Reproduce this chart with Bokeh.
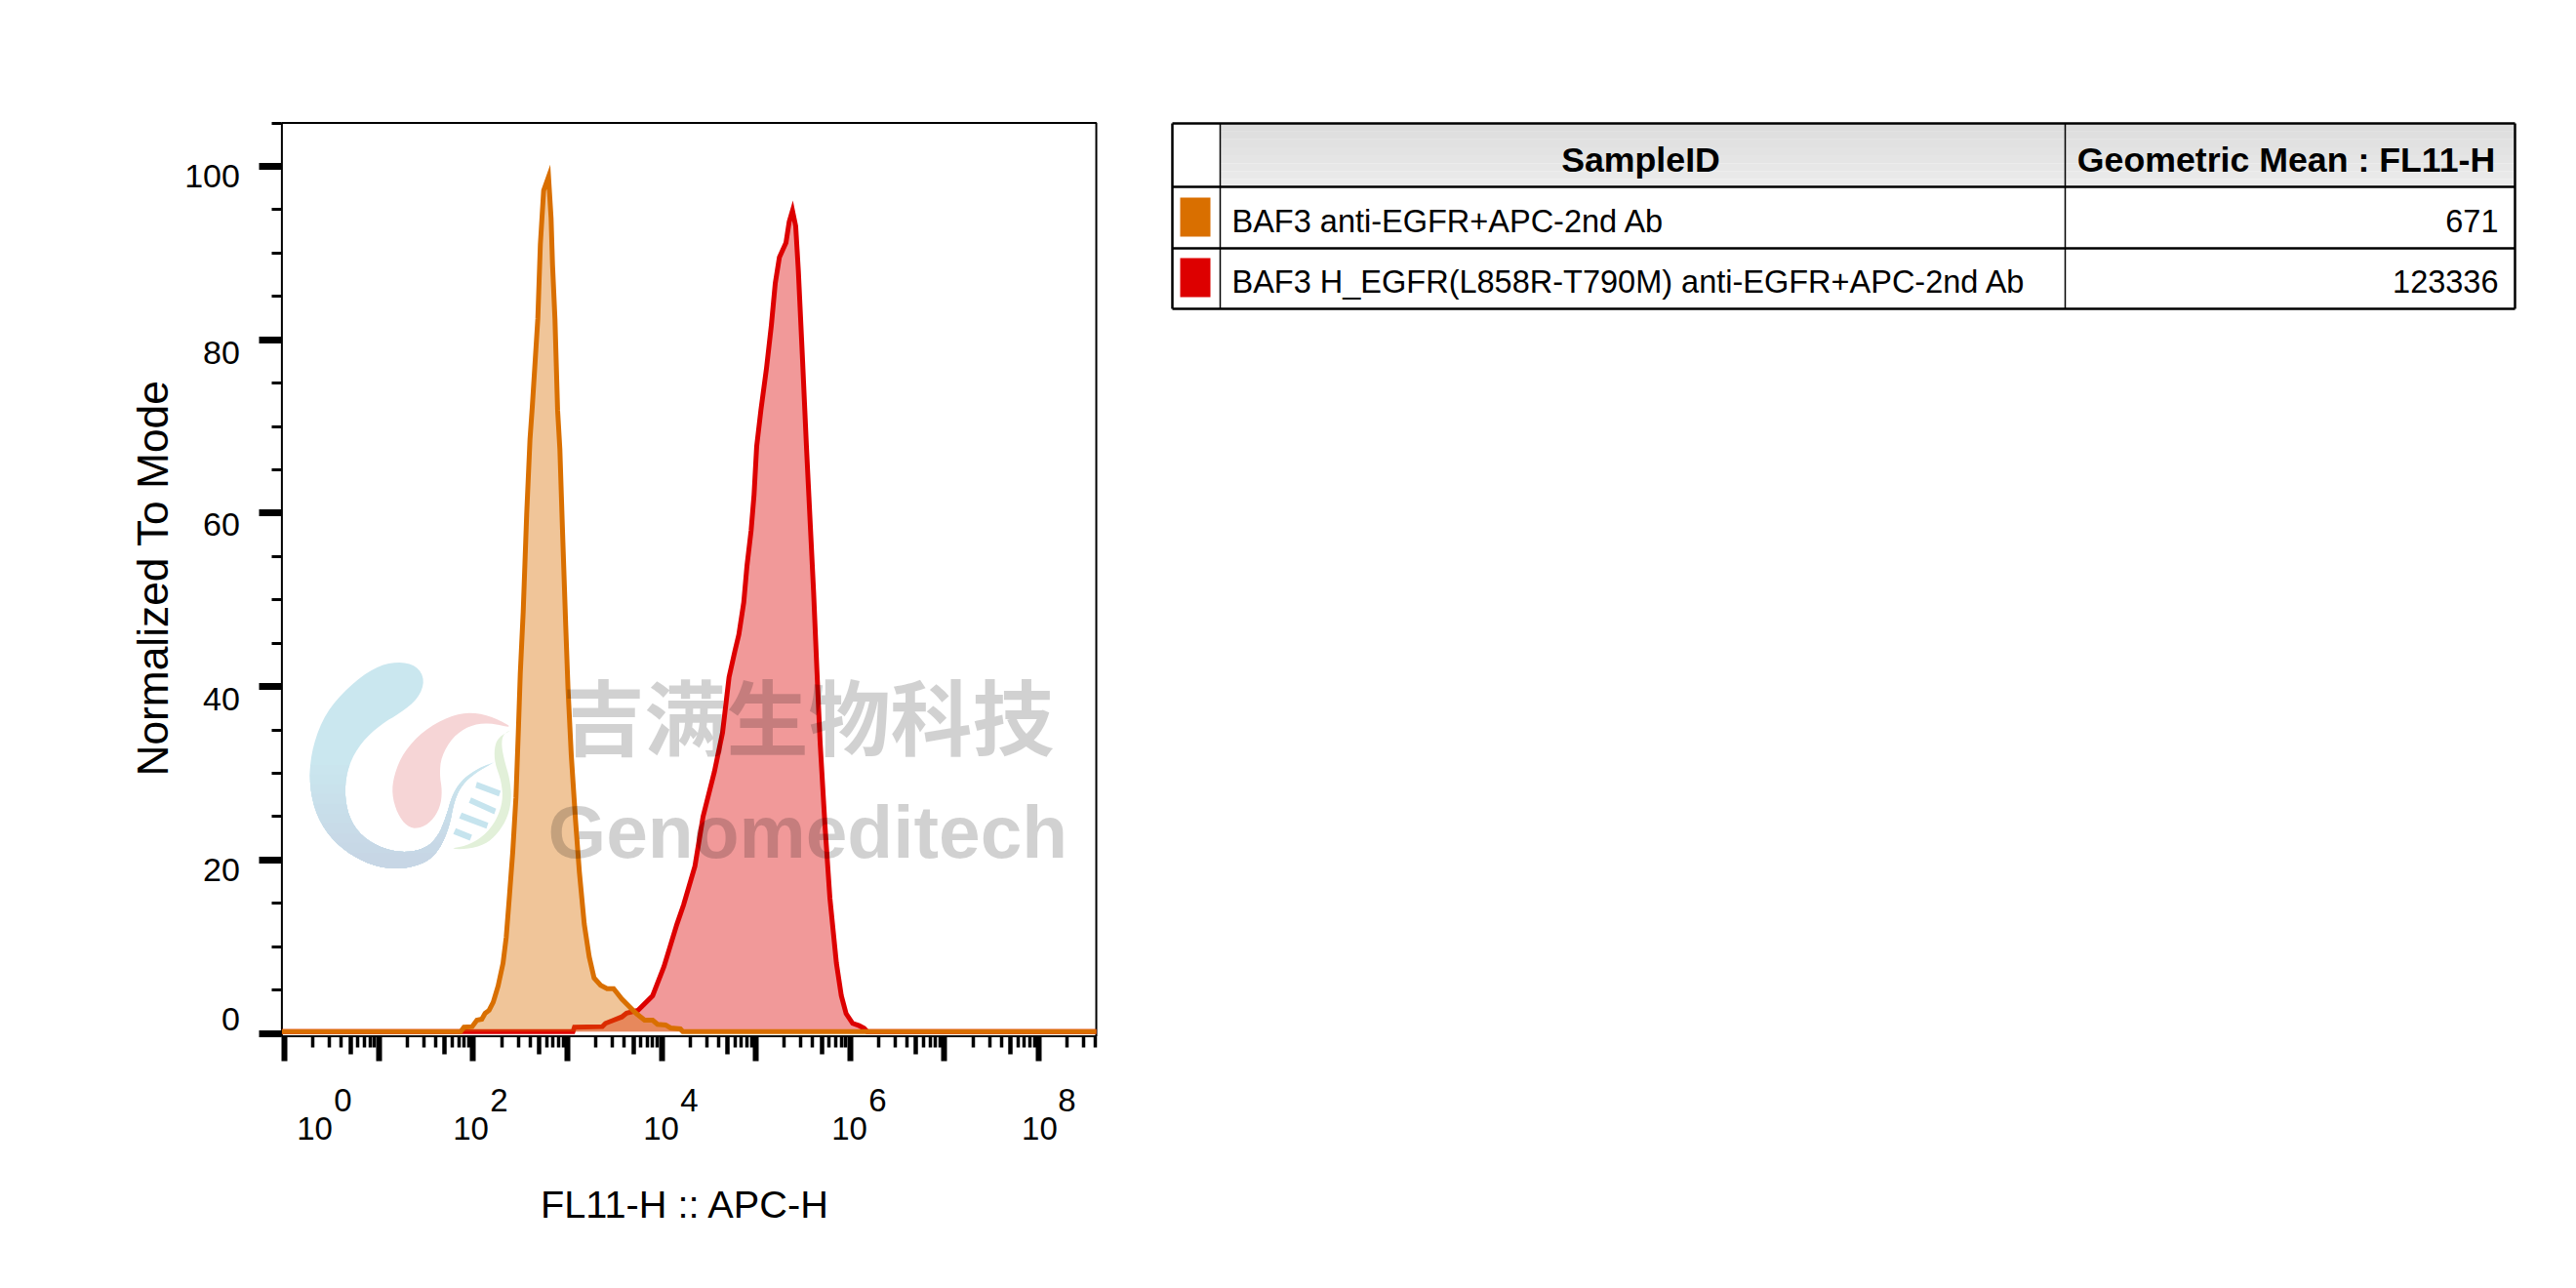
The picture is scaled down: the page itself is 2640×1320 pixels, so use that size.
import numpy as np
from bokeh.core.properties import value
from bokeh.embed import file_html
from bokeh.layouts import row
from bokeh.models import FixedTicker, Label, LinearAxis, LogAxis, PolyAnnotation, Range1d
from bokeh.plotting import figure
from bokeh.resources import INLINE

# ---------------- data ----------------
orange_log = [-0.03, 1.867, 1.902, 1.988, 2.039, 2.091, 2.126, 2.168, 2.212, 2.264, 2.316, 2.350, 2.385,
              2.419, 2.453, 2.478, 2.499, 2.530, 2.567, 2.602, 2.626, 2.685, 2.712, 2.747, 2.799, 2.826,
              2.841, 2.867, 2.895, 2.919, 2.947, 2.981, 3.006, 3.040, 3.085, 3.126, 3.178, 3.230, 3.282,
              3.351, 3.420, 3.489, 3.576, 3.731, 3.818, 3.903, 3.955, 4.041, 4.093, 4.197, 4.224, 8.61]
orange_pct = [0.2, 0.2, 0.71, 0.78, 1.53, 1.64, 2.32, 2.66, 3.59, 5.47, 8.09, 11.1, 15.97,
              20.9, 27.2, 34.7, 41.5, 48.6, 59.9, 68.5, 72.2, 82.4, 91.0, 97.2, 98.8, 94.0,
              88.7, 82.4, 71.9, 67.4, 58.0, 47.1, 39.6, 32.1, 24.6, 18.6, 12.6, 8.85, 6.40,
              5.55, 5.17, 5.17, 3.97, 2.28, 1.53, 1.53, 1.05, 0.97, 0.63, 0.52, 0.2, 0.2]
red_log = [-0.03, 3.058, 3.074, 3.369, 3.403, 3.489, 3.576, 3.627, 3.747, 3.903, 4.024, 4.161, 4.231, 4.352,
           4.438, 4.559, 4.645, 4.714, 4.776, 4.818, 4.870, 4.904, 4.948, 4.979, 5.007, 5.052, 5.111, 5.163,
           5.204, 5.248, 5.318, 5.352, 5.387, 5.421, 5.449, 5.491, 5.535, 5.577, 5.611, 5.646, 5.680, 5.732,
           5.784, 5.853, 5.905, 5.956, 6.025, 6.094, 6.146, 6.180, 8.61]
red_pct = [0.2, 0.2, 0.71, 0.78, 1.16, 1.53, 1.90, 2.35, 2.66, 4.34, 7.72, 12.6, 14.8, 19.3,
           25.0, 30.2, 34.7, 41.1, 44.1, 46.0, 49.7, 53.9, 58.0, 62.1, 67.7, 71.9, 76.7, 81.7,
           86.5, 89.5, 91.2, 93.6, 94.9, 93.1, 88.0, 78.3, 67.7, 58.4, 50.9, 41.9, 33.6, 23.9,
           15.6, 8.09, 4.34, 2.28, 1.16, 0.89, 0.60, 0.2, 0.2]

y_ticks = [0, 20, 40, 60, 80, 100]
y_tick_text = ["0", "20", "40", "60", "80", "100"]
y_minor = [5, 10, 15, 25, 30, 35, 45, 50, 55, 65, 70, 75, 85, 90, 95, 105]
x_base_text = ["10", "10", "10", "10", "10"]
x_sup_text = ["0", "2", "4", "6", "8"]

table_samples = ["BAF3 anti-EGFR+APC-2nd Ab", "BAF3 H_EGFR(L858R-T790M) anti-EGFR+APC-2nd Ab"]
table_values = ["671", "123336"]
table_header = ["SampleID", "Geometric Mean : FL11-H"]

ORANGE, RED = "#d96f00", "#dd0000"
SANS = "Liberation Sans"

# where the reference's tick labels actually sit (they are not centred on their ticks)
y_label_at = [1.64, 18.9, 38.55, 58.7, 78.5, 98.9]
x_base_at = [2.08, 94.2, 9840.0, 979000.0, 102000000.0]
x_sup_at = [4.15, 188.0, 19600.0, 1950000.0, 199000000.0]

# ---------------- histogram panel ----------------
# The frame fills the whole canvas (anything outside a frame gets clipped on this page),
# so the visible plot box is x_lo..x_hi, y_lo..y_hi inside wider ranges.
x_lo, x_hi = 10 ** -0.03, 10 ** 8.61
y_lo, y_hi = -0.34, 105
p = figure(width=1180, height=1316, output_backend="svg", toolbar_location=None,
           x_axis_type="log", x_range=Range1d(10 ** -3.0155, 10 ** 9.1998), y_range=Range1d(-28.97, 119.13),
           min_border=0, outline_line_color=None, frame_align=False)
p.grid.visible = False
p.quad(left=[x_lo], right=[x_hi], bottom=[y_lo], top=[y_hi], fill_color=None, line_color="black", line_width=2)

decades = [10.0 ** k for k in range(0, 9)]
x_minor = [m * 10.0 ** k for k in range(-1, 9) for m in (2, 3, 4, 6, 7, 8, 9)
           if x_lo <= m * 10.0 ** k <= x_hi]
x_medium = [5 * 10.0 ** k for k in range(0, 9) if 5 * 10.0 ** k <= x_hi]

xa = p.xaxis[0]
xa.fixed_location = y_lo
xa.axis_line_color = None
xa.ticker = FixedTicker(ticks=decades, minor_ticks=x_minor)
xa.major_tick_in = 0; xa.major_tick_out = 25; xa.major_tick_line_width = 6
xa.minor_tick_in = 0; xa.minor_tick_out = 11; xa.minor_tick_line_width = 3.5
xa.major_label_text_font_size = "1px"; xa.major_label_text_color = None; xa.major_label_standoff = 0

medium = LogAxis(ticker=FixedTicker(ticks=x_medium), fixed_location=y_lo, axis_line_color=None,
                 major_tick_in=0, major_tick_out=18, major_tick_line_width=4.5,
                 minor_tick_line_color=None, major_label_text_font_size="1px",
                 major_label_text_color=None, major_label_standoff=0)
p.add_layout(medium, "below")

ya = p.yaxis[0]
ya.fixed_location = x_lo
ya.axis_line_color = None
ya.ticker = FixedTicker(ticks=y_ticks, minor_ticks=y_minor)
ya.major_tick_in = 0; ya.major_tick_out = 23; ya.major_tick_line_width = 7
ya.minor_tick_in = 0; ya.minor_tick_out = 10; ya.minor_tick_line_width = 3
ya.major_label_text_font_size = "1px"; ya.major_label_text_color = None; ya.major_label_standoff = 0

rx = np.power(10.0, red_log); ox = np.power(10.0, orange_log)
p.varea(rx, y1=0.2, y2=red_pct, fill_color=RED, fill_alpha=0.4)
p.line(rx, red_pct, line_color=RED, line_width=5, line_join="miter")
p.varea(ox, y1=0.2, y2=orange_pct, fill_color=ORANGE, fill_alpha=0.4)
p.line(ox, orange_pct, line_color=ORANGE, line_width=5, line_join="miter")

# tick-label axes: no ticks or lines, only the labels, placed as in the reference
def label_axis(cls, side, at, texts, standoff, size, fixed):
    ax = cls(ticker=FixedTicker(ticks=at), fixed_location=fixed, axis_line_color=None,
             major_tick_line_color=None, minor_tick_line_color=None, major_tick_in=0, major_tick_out=0,
             major_label_standoff=standoff, major_label_overrides=dict(zip(at, texts)),
             major_label_text_font=SANS, major_label_text_font_size=size, major_label_text_color="black")
    p.add_layout(ax, side)

label_axis(LinearAxis, "left", y_label_at, y_tick_text, 43, "34px", x_lo)
label_axis(LogAxis, "below", x_base_at, x_base_text, 83, "33px", y_lo)
label_axis(LogAxis, "below", x_sup_at, x_sup_text, 54, "33px", y_lo)

p.add_layout(Label(x=702, y=1233, x_units="canvas", y_units="canvas", text="FL11-H :: APC-H", text_align="center",
                   text_baseline="middle", text_font=SANS, text_font_size="39.7px", text_color="black"))
p.add_layout(Label(x=156, y=592, x_units="canvas", y_units="canvas", text="Normalized To Mode", text_align="center",
                   text_baseline="middle", angle=90, angle_units="deg", text_font=SANS, text_font_size="44.3px",
                   text_color="black"))

# ---------------- watermark ----------------
def smooth(pts, rounds=2):
    for _ in range(rounds):
        out = []
        for (a, b), (c, d) in zip(pts, pts[1:] + pts[:1]):
            out += [(0.75 * a + 0.25 * c, 0.75 * b + 0.25 * d), (0.25 * a + 0.75 * c, 0.25 * b + 0.75 * d)]
        pts = out
    return pts

def keep_below(pts, thr):
    out = []
    for (a, b), (c, d) in zip(pts, pts[1:] + pts[:1]):
        if b >= thr:
            out.append((a, b))
        if (b >= thr) != (d >= thr):
            f = (thr - b) / (d - b)
            out.append((a + f * (c - a), thr))
    return out

def logo(pts, color):
    xs = [300 + a / 3 for a, _ in pts]
    ys = [660 + b / 3 for _, b in pts]
    p.add_layout(PolyAnnotation(xs=xs, ys=ys, xs_units="canvas", ys_units="canvas", fill_color=color,
                                fill_alpha=1, line_color=None, level="underlay"))

swirl = smooth([(320, 52), (380, 65), (405, 110), (385, 165), (330, 210), (270, 245), (210, 300), (170, 370),
                (157, 450), (170, 530), (210, 590), (280, 630), (350, 640), (410, 625), (445, 590), (470, 530),
                (490, 460), (520, 415), (570, 380), (618, 362), (618, 362), (560, 395), (520, 430), (495, 480),
                (480, 560), (450, 630), (410, 670), (340, 690), (260, 685), (180, 650), (110, 590), (65, 510),
                (48, 410), (60, 310), (100, 210), (170, 130), (250, 70)])
logo(swirl, "#cae7ef")
for i in range(1, 11):
    f = i / 10
    shade = "#%02x%02x%02x" % (round(202 - 3 * f), round(231 - 17 * f), round(239 - 10 * f))
    logo(keep_below(swirl, 340 + 30 * i), shade)
logo(smooth([(680, 258), (620, 225), (550, 207), (480, 220), (400, 265), (340, 330), (310, 400), (303, 460),
             (320, 520), (350, 560), (385, 567), (425, 545), (452, 500), (458, 450), (450, 400), (455, 345),
             (490, 285), (540, 250), (600, 240)]), "#f6d5d6")
logo(smooth([(680, 258), (645, 275), (640, 310), (650, 360), (665, 410), (672, 470), (660, 530), (630, 580),
             (590, 615), (530, 630), (480, 627), (530, 620), (585, 590), (625, 540), (645, 480), (640, 420),
             (620, 365), (618, 320), (630, 285)]), "#e2f0d9")
for quad in ([(565, 422), (638, 450), (632, 467), (560, 440)], [(547, 470), (624, 505), (618, 522), (540, 487)],
             [(518, 517), (600, 548), (594, 566), (510, 535)], [(500, 565), (550, 585), (543, 603), (492, 583)]):
    logo(quad, "#c6e4ee")

p.add_layout(Label(x=576, y=731, x_units="canvas", y_units="canvas", text="吉满生物科技",
                   text_font="Noto Sans CJK SC", text_font_style="bold", text_font_size="84px",
                   text_color="black", text_alpha=0.18, text_baseline="alphabetic"))
p.add_layout(Label(x=561, y=852, x_units="canvas", y_units="canvas", text="Genomeditech",
                   text_font=SANS, text_font_style="bold", text_font_size="76.7px",
                   text_color="black", text_alpha=0.18, text_baseline="alphabetic"))

# ---------------- table panel (data coordinates = page pixels) ----------------
t = figure(width=1456, height=1316, output_backend="svg", toolbar_location=None,
           x_range=Range1d(1180, 2636), y_range=Range1d(1316, 0), frame_align=False,
           min_border=0, outline_line_color=None, x_axis_location=None, y_axis_location=None)
t.grid.visible = False

col_x = [1201, 1250, 2116, 2577]
row_y = [126, 191, 254, 316]
shades = ["#dddddd", "#dfdfdf", "#e1e1e1", "#e3e3e3", "#e5e5e5", "#e7e7e7", "#e9e9e9", "#ebebeb"]
n = len(shades)
edges = [row_y[0] + (row_y[1] - row_y[0]) * i / n for i in range(n + 1)]
t.quad(left=col_x[1], right=col_x[3], top=edges[:-1], bottom=edges[1:], fill_color=shades, line_color=None)

t.segment(x0=col_x[0], x1=col_x[3], y0=row_y, y1=row_y, line_color="black", line_width=2.5)
t.segment(x0=col_x, x1=col_x, y0=row_y[0], y1=row_y[3], line_color="black",
          line_width=[2.5, 1.5, 1.5, 2.5])
t.quad(left=1209, right=1240, top=[202, 264], bottom=[242, 304], fill_color=[ORANGE, RED], line_color=None)

t.text(x=[1681, 2342.5], y=[163, 163], text=table_header, text_align="center", text_baseline="alphabetic",
       text_font=value(SANS), text_font_style="bold", text_font_size="35.7px", text_color="black")
t.text(x=[1262, 1262], y=[226, 288], text=table_samples, text_align="left", text_baseline="alphabetic",
       text_font=value(SANS), text_font_size="32.5px", text_color="black")
t.text(x=[2560, 2560], y=[226, 288], text=table_values, text_align="right", text_baseline="alphabetic",
       text_font=value(SANS), text_font_size="32.5px", text_color="black")

open("out.html", "w").write(file_html(row(p, t), INLINE))
